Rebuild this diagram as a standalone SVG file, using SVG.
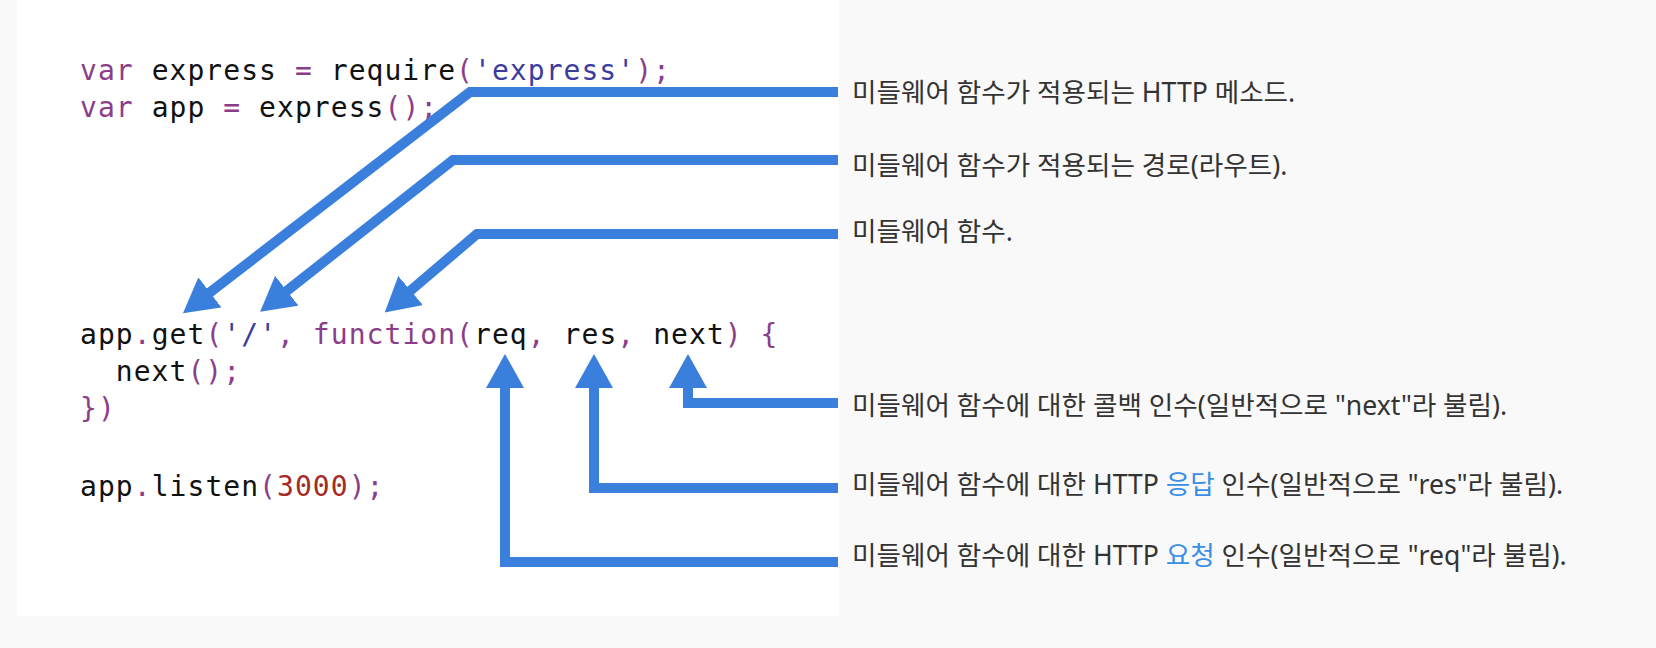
<svg xmlns="http://www.w3.org/2000/svg" width="1656" height="648" viewBox="0 0 1656 648">
<style>
.code{font-family:"DejaVu Sans Mono","Liberation Mono",monospace;font-size:28px;letter-spacing:1.05px;fill:#111}
.k{fill:#8b3d8a}.s{fill:#3c3c9e}.n{fill:#a52a1f}
.lbl{font-family:"Noto Sans","Noto Sans CJK KR",sans-serif;font-size:26.6px;fill:#333}
.hl{fill:#3a8ee6}
.arr{fill:none;stroke:#3b7fdd;stroke-width:10;stroke-linejoin:miter;marker-end:url(#ah)}
</style>
<defs>
<marker id="ah" viewBox="0 0 34 38" refX="10" refY="19" markerWidth="34" markerHeight="38" markerUnits="userSpaceOnUse" orient="auto">
<path d="M0,0 L34,19 L0,38 Z" fill="#3b7fdd"/>
</marker>
</defs>
<rect x="0" y="0" width="1656" height="648" fill="#f9f9f9"/>
<rect x="17" y="0" width="822" height="616" fill="#ffffff"/>
<g id="code">
<text class="code" x="80" y="80"><tspan class="k">var</tspan> express <tspan class="k">=</tspan> require<tspan class="k">(</tspan><tspan class="s">'express'</tspan><tspan class="k">);</tspan></text>
<text class="code" x="80" y="117"><tspan class="k">var</tspan> app <tspan class="k">=</tspan> express<tspan class="k">();</tspan></text>
<text class="code" x="80" y="344">app<tspan class="k">.</tspan>get<tspan class="k">(</tspan><tspan class="s">'/'</tspan><tspan class="k">, function(</tspan>req<tspan class="k">,</tspan> res<tspan class="k">,</tspan> next<tspan class="k">) {</tspan></text>
<text class="code" x="115.8" y="381">next<tspan class="k">();</tspan></text>
<text class="code" x="80" y="418"><tspan class="k">})</tspan></text>
<text class="code" x="80" y="496">app<tspan class="k">.</tspan>listen<tspan class="k">(</tspan><tspan class="n">3000</tspan><tspan class="k">);</tspan></text>
</g>
<g id="connectors">
<path class="arr" d="M838,92 H470 L202,298.5"/>
<path class="arr" d="M838,160 H453 L279,297"/>
<path class="arr" d="M838,234 H477 L403,297"/>
<path class="arr" d="M838,403 H688 V378"/>
<path class="arr" d="M838,488 H594 V378"/>
<path class="arr" d="M838,562 H505 V378"/>
</g>
<g id="label-method"><text class="lbl" x="852" y="102">미들웨어 함수가 적용되는 HTTP 메소드.</text></g>
<g id="label-route"><text class="lbl" x="852" y="175">미들웨어 함수가 적용되는 경로(라우트).</text></g>
<g id="label-function"><text class="lbl" x="852" y="241">미들웨어 함수.</text></g>
<g id="label-next"><text class="lbl" x="852" y="415">미들웨어 함수에 대한 콜백 인수(일반적으로 "next"라 불림).</text></g>
<g id="label-res"><text class="lbl" x="852" y="494">미들웨어 함수에 대한 HTTP <tspan class="hl">응답</tspan> 인수(일반적으로 "res"라 불림).</text></g>
<g id="label-req"><text class="lbl" x="852" y="565">미들웨어 함수에 대한 HTTP <tspan class="hl">요청</tspan> 인수(일반적으로 "req"라 불림).</text></g>
</svg>
